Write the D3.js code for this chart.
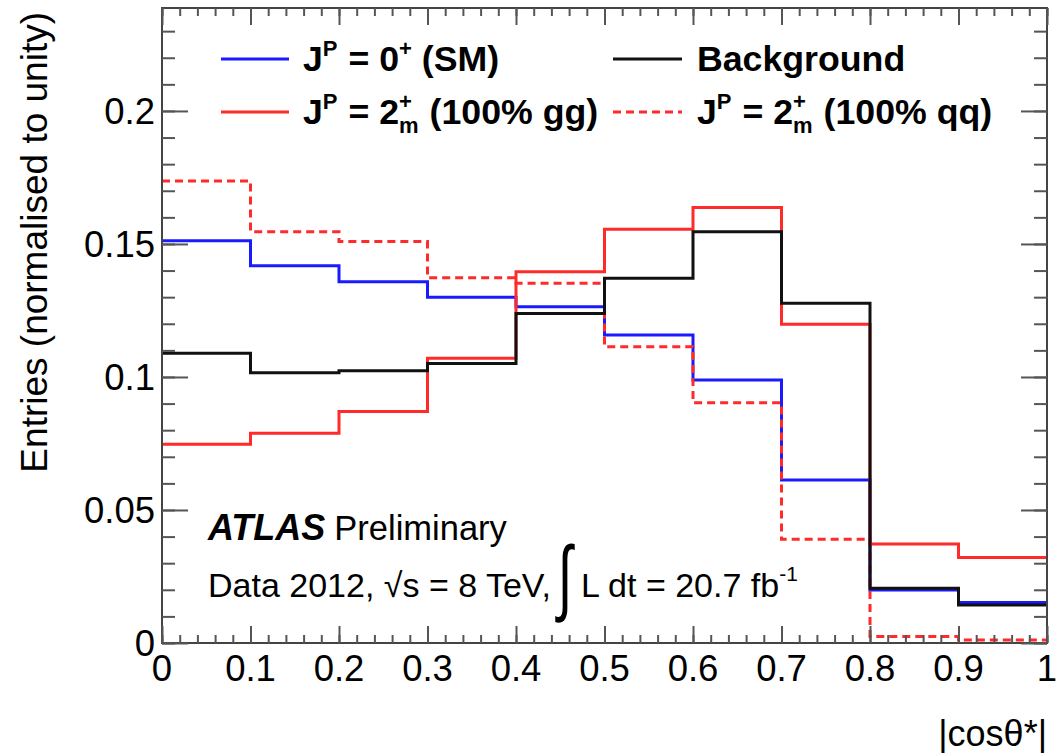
<!DOCTYPE html>
<html><head><meta charset="utf-8">
<script src="https://cdn.jsdelivr.net/npm/d3@7"></script>
<style>body{margin:0;background:#fff}svg{display:block}text{font-family:"Liberation Sans",Arial,Helvetica,sans-serif;fill:#000;white-space:pre}</style>
</head><body>
<script>
// ---- data ----
const binEdges = [0,0.1,0.2,0.3,0.4,0.5,0.6,0.7,0.8,0.9,1.0];
const smValues  = [0.1512,0.1418,0.1358,0.1300,0.1264,0.1158,0.0989,0.0613,0.0199,0.0152];
const ggValues  = [0.0747,0.0788,0.0870,0.1070,0.1396,0.1555,0.1637,0.1198,0.0372,0.0321];
const qqValues  = [0.1737,0.1546,0.1509,0.1373,0.1352,0.1114,0.0903,0.0390,0.0024,0.0011];
const bkgValues = [0.1089,0.1016,0.1023,0.1051,0.1239,0.1371,0.1546,0.1277,0.0206,0.0143];
const xTicks = [0,0.1,0.2,0.3,0.4,0.5,0.6,0.7,0.8,0.9,1];
const xTickLabels = ["0","0.1","0.2","0.3","0.4","0.5","0.6","0.7","0.8","0.9","1"];
const yTicks = [0,0.05,0.1,0.15,0.2];
const yTickLabels = ["0","0.05","0.1","0.15","0.2"];
const yMax = 0.2387;

const W=1061,H=753;
const L=162,R=1047,T=8,B=643;
const svg=d3.select("body").append("svg").attr("width",W).attr("height",H);
const x=d3.scaleLinear().domain([0,1]).range([L,R]);
const y=d3.scaleLinear().domain([0,yMax]).range([B,T]);

// histograms
function stepPts(vals){const p=vals.map((v,i)=>[binEdges[i],v]);p.push([binEdges[binEdges.length-1],vals[vals.length-1]]);return p;}
const line=d3.line().x(d=>x(d[0])).y(d=>y(d[1])).curve(d3.curveStepAfter);
const series=[
 {v:smValues,c:"#1a1aff",dash:null},
 {v:ggValues,c:"#ff2a2a",dash:null},
 {v:qqValues,c:"#ff2a2a",dash:"8,5"},
 {v:bkgValues,c:"#111",dash:null}
];
series.forEach(s=>{
 svg.append("path").attr("d",line(stepPts(s.v))).attr("fill","none").attr("stroke",s.c)
  .attr("stroke-width",3).attr("stroke-dasharray",s.dash);
});

// frame
svg.append("rect").attr("x",L).attr("y",T).attr("width",R-L).attr("height",B-T)
 .attr("fill","none").attr("stroke","#444").attr("stroke-width",2);

// axes ticks
const minorY=d3.range(0,yMax,0.01), minorX=d3.range(0,1.001,0.02);
svg.append("g").attr("transform",`translate(${L},0)`)
 .call(d3.axisRight(y).tickValues(minorY).tickSize(13).tickFormat(""));
svg.append("g").attr("transform",`translate(${L},0)`)
 .call(d3.axisRight(y).tickValues(yTicks).tickSize(26).tickFormat(""));
svg.append("g").attr("transform",`translate(${R},0)`)
 .call(d3.axisLeft(y).tickValues(minorY).tickSize(13).tickFormat(""));
svg.append("g").attr("transform",`translate(${R},0)`)
 .call(d3.axisLeft(y).tickValues(yTicks).tickSize(26).tickFormat(""));
svg.append("g").attr("transform",`translate(0,${B})`)
 .call(d3.axisTop(x).tickValues(minorX).tickSize(8).tickFormat(""));
svg.append("g").attr("transform",`translate(0,${B})`)
 .call(d3.axisTop(x).tickValues(xTicks).tickSize(17).tickFormat(""));
svg.append("g").attr("transform",`translate(0,${T})`)
 .call(d3.axisBottom(x).tickValues(minorX).tickSize(8).tickFormat(""));
svg.append("g").attr("transform",`translate(0,${T})`)
 .call(d3.axisBottom(x).tickValues(xTicks).tickSize(17).tickFormat(""));
svg.selectAll(".domain").remove();
svg.selectAll(".tick line").attr("stroke","#555").attr("stroke-width",2);

// tick labels
svg.append("g").selectAll("text").data(yTicks).join("text")
 .attr("x",155).attr("y",d=>y(d)+13).attr("text-anchor","end").attr("font-size",36.5)
 .text((d,i)=>yTickLabels[i]);
svg.append("g").selectAll("text").data(xTicks).join("text")
 .attr("x",d=>x(d)).attr("y",681).attr("text-anchor","middle").attr("font-size",36.5)
 .text((d,i)=>xTickLabels[i]);

// axis titles
svg.append("text").attr("transform","translate(47,12) rotate(-90)").attr("text-anchor","end")
 .attr("font-size",37).text("Entries (normalised to unity)");
svg.append("text").attr("x",1047).attr("y",746).attr("text-anchor","end").attr("font-size",36).text("|cosθ*|");

// rich text helper
function rich(g,x0,y0,segs){
 let cx=x0,prevX=x0;
 segs.forEach(s=>{
  const sx = s.stack ? prevX : cx;
  const t=g.append("text").attr("x",sx).attr("y",y0+(s.dy||0)).attr("font-size",s.fs)
   .attr("font-weight",s.w||"normal").attr("font-style",s.st||"normal").text(s.t);
  const w=t.node().getComputedTextLength();
  if(s.stack){cx=Math.max(cx,sx+w);}else{prevX=sx;cx=sx+w;}
  cx+= (s.gap||0);
 });
 return cx;
}

// legend
const lg=svg.append("g");
const FS=35.7, SS=22;
const legRows=[
 {x1:221,x2:289,y:59,c:"#1a1aff",dash:null,tx:303,segs:[
  {t:"J",fs:FS,w:"bold"},{t:"P",fs:SS,w:"bold",dy:-15,gap:1},{t:" = 0",fs:FS,w:"bold"},{t:"+",fs:SS,w:"bold",dy:-15},{t:" (SM)",fs:FS,w:"bold"}]},
 {x1:221,x2:289,y:112,c:"#ff2a2a",dash:null,tx:303,segs:[
  {t:"J",fs:FS,w:"bold"},{t:"P",fs:SS,w:"bold",dy:-15,gap:1},{t:" = 2",fs:FS,w:"bold"},{t:"+",fs:SS,w:"bold",dy:-15},{t:"m",fs:SS,w:"bold",dy:9,stack:true,gap:1},{t:" (100% gg)",fs:FS,w:"bold"}]},
 {x1:613,x2:682,y:59,c:"#111",dash:null,tx:697,segs:[{t:"Background",fs:FS,w:"bold"}]},
 {x1:613,x2:682,y:112,c:"#ff2a2a",dash:"8,5",tx:697,segs:[
  {t:"J",fs:FS,w:"bold"},{t:"P",fs:SS,w:"bold",dy:-15,gap:1},{t:" = 2",fs:FS,w:"bold"},{t:"+",fs:SS,w:"bold",dy:-15},{t:"m",fs:SS,w:"bold",dy:9,stack:true,gap:1},{t:" (100% qq)",fs:FS,w:"bold"}]}
];
legRows.forEach(r=>{
 lg.append("line").attr("x1",r.x1).attr("x2",r.x2).attr("y1",r.y).attr("y2",r.y)
  .attr("stroke",r.c).attr("stroke-width",3).attr("stroke-dasharray",r.dash);
 rich(lg,r.tx,r.y+12,r.segs);
});

// ATLAS label
const al=svg.append("g");
const ax2=rich(al,208,540,[{t:"ATLAS",fs:36,w:"bold",st:"italic",gap:9}]);
rich(al,ax2,540,[{t:"Preliminary",fs:34.5}]);
let cx=rich(al,208,597,[{t:"Data 2012, √s = 8 TeV,",fs:34}]);
al.append("text").attr("x",0).attr("y",0).attr("font-size",62).text("∫")
 .attr("transform",`translate(${cx+7},605) scale(0.85,1.35)`);
rich(al,581,597,[{t:"L dt = 20.7 fb",fs:34},{t:"-1",fs:21,dy:-16}]);
</script>
</body></html>
